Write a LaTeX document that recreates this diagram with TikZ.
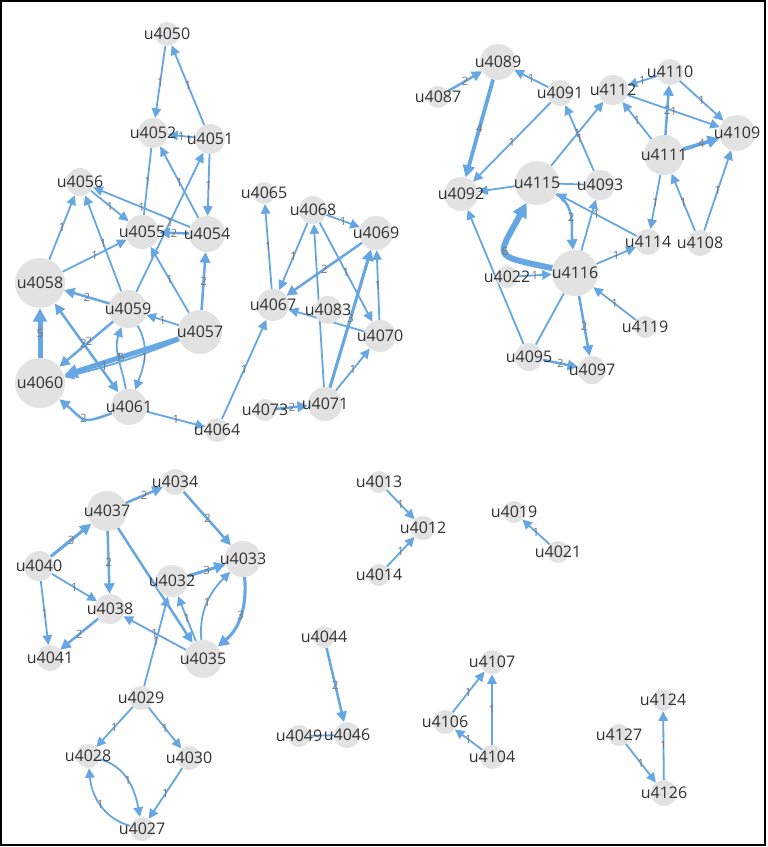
\documentclass[tikz,border=0pt]{standalone}
\usepackage{fontspec}
\setmainfont{Open Sans}
\usetikzlibrary{arrows.meta}
\definecolor{edgeblue}{RGB}{102,166,226}
\definecolor{nodegray}{RGB}{226,226,226}
\definecolor{txtgray}{RGB}{50,50,50}
\definecolor{labgray}{RGB}{118,118,118}
\pgfdeclarelayer{back}
\pgfdeclarelayer{edges}
\pgfsetlayers{back,edges,main}
\tikzset{
  >={Triangle[length=7.5pt 1.2,width=7pt 1.3]},
  nd/.style={circle,fill=nodegray,inner sep=0pt,minimum size=#1},
  nlab/.style={text=txtgray,font=\fontsize{16}{16}\selectfont,inner sep=0pt},
  el/.style={text=labgray,font=\fontsize{11.5}{11.5}\selectfont,inner sep=0.5pt},
  eb/.style={draw=edgeblue,->},
  e1/.style={eb,line width=1.8pt},
  e2/.style={eb,line width=2.5pt},
  e3/.style={eb,line width=3.1pt},
  e4/.style={eb,line width=3.8pt},
  e5/.style={eb,line width=5pt},
  e6/.style={eb,line width=6pt},
  frame/.style={draw=black,line width=2pt}
}
\newcommand\mynode[4]{\node[nd=#4pt,label={[nlab]center:#1}] (#1) at (#2,#3) {};}
\begin{document}
\begin{tikzpicture}[x=1pt,y=-1pt]
\useasboundingbox (0,0) rectangle (768,847);
\begin{pgfonlayer}{back}
\fill[white] (0,0) rectangle (768,847);
\end{pgfonlayer}
% nodes
\mynode{u4050}{167}{34}{24}
\mynode{u4052}{153}{133}{30}
\mynode{u4051}{210}{139}{30}
\mynode{u4056}{80}{182}{28}
\mynode{u4055}{142}{232}{34}
\mynode{u4054}{207}{234}{36}
\mynode{u4058}{40}{283}{50}
\mynode{u4059}{128}{309}{38}
\mynode{u4057}{200}{332}{44}
\mynode{u4060}{40}{383}{50}
\mynode{u4061}{129}{407}{36}
\mynode{u4064}{217}{430}{24}
\mynode{u4065}{264}{193}{22}
\mynode{u4068}{313}{210}{28}
\mynode{u4069}{376}{233}{34}
\mynode{u4067}{273}{305}{32}
\mynode{u4083}{328}{310}{28}
\mynode{u4070}{380}{336}{32}
\mynode{u4071}{325}{404}{34}
\mynode{u4073}{265}{410}{22}
\mynode{u4087}{438}{97}{22}
\mynode{u4089}{498}{62}{36}
\mynode{u4091}{560}{93}{26}
\mynode{u4112}{613}{90}{30}
\mynode{u4110}{670}{72}{26}
\mynode{u4109}{737}{133}{36}
\mynode{u4111}{664}{155}{40}
\mynode{u4092}{461}{194}{34}
\mynode{u4115}{537}{183}{44}
\mynode{u4093}{600}{185}{30}
\mynode{u4114}{648}{242}{26}
\mynode{u4108}{700}{243}{26}
\mynode{u4022}{507}{277}{22}
\mynode{u4116}{575}{273}{46}
\mynode{u4119}{645}{327}{22}
\mynode{u4095}{529}{357}{28}
\mynode{u4097}{592}{370}{28}
\mynode{u4034}{175}{482}{26}
\mynode{u4037}{107}{511}{40}
\mynode{u4040}{39}{566}{30}
\mynode{u4033}{243}{559}{36}
\mynode{u4032}{172}{581}{32}
\mynode{u4038}{110}{609}{30}
\mynode{u4041}{50}{658}{26}
\mynode{u4035}{203}{659}{38}
\mynode{u4029}{141}{698}{24}
\mynode{u4028}{88}{756}{24}
\mynode{u4030}{189}{758}{24}
\mynode{u4027}{142}{829}{24}
\mynode{u4013}{379}{482}{22}
\mynode{u4012}{423}{528}{24}
\mynode{u4014}{379}{575}{22}
\mynode{u4019}{514}{512}{22}
\mynode{u4021}{558}{552}{22}
\mynode{u4044}{324}{637}{22}
\mynode{u4049}{299}{736}{22}
\mynode{u4046}{347}{735}{26}
\mynode{u4107}{492}{662}{24}
\mynode{u4106}{445}{722}{24}
\mynode{u4104}{492}{757}{24}
\mynode{u4124}{663}{700}{22}
\mynode{u4127}{619}{735}{22}
\mynode{u4126}{664}{793}{26}
\begin{pgfonlayer}{edges}
% cluster A
\draw[e1] (u4050) -- node[el]{1} (u4052);
\draw[e1] (u4051) -- node[el]{1} (u4050);
\draw[e1] (u4051) -- node[el]{1} (u4052);
\draw[e1] (u4051) -- node[el]{1} (u4054);
\draw[e1,-] (u4052) -- node[el]{1} (u4055);
\draw[e1] (u4054) -- node[el]{1} (u4052);
\draw[e1] (u4054) -- node[el]{1} (u4056);
\draw[e1] (u4056) -- node[el]{1} (u4055);
\draw[e1] (u4058) -- node[el]{1} (u4056);
\draw[e1] (u4059) -- node[el]{1} (u4056);
\draw[e1] (u4058) -- node[el]{1} (u4055);
\draw[e1] (u4059) -- node[el]{1} (u4051);
\draw[e2] (u4054) -- node[el]{2} (u4055);
\draw[e1] (u4057) -- node[el]{1} (u4055);
\draw[e2] (u4057) -- node[el]{2} (u4054);
\draw[e2] (u4059) -- node[el]{2} (u4058);
\draw[e1] (u4057) -- node[el]{1} (u4059);
\draw[e5] (u4060) -- node[el]{5} (u4058);
\draw[e5] (u4057) -- node[el]{5} (u4060);
\draw[e1] (u4057) to[bend left=4] node[el,pos=0.67]{1} (u4060);
\draw[e2] (u4059) -- node[el,pos=0.45]{2} (u4060);
\draw[e2,<->] (u4061) -- node[el,pos=0.55]{2} (u4058);
\draw[e1] (u4059) to[out=-60,in=70] node[el]{1} (u4061);
\draw[e1] (u4061) to[out=100,in=-110] node[el]{1} (u4059);
\draw[e2] (u4061) to[out=-160,in=-40,looseness=1.6] node[el]{2} (u4060);
\draw[e1] (u4061) -- node[el]{1} (u4064);
\draw[e1] (u4064) -- node[el]{1} (u4067);
% cluster B
\draw[e1] (u4067) -- node[el]{1} (u4065);
\draw[e1] (u4068) -- node[el]{1} (u4067);
\draw[e2] (u4069) -- node[el]{2} (u4067);
\draw[e1] (u4068) -- node[el]{1} (u4069);
\draw[e1] (u4068) -- node[el]{1} (u4070);
\draw[e1] (u4071) -- (u4068);
\draw[e1] (u4070) -- node[el]{1} (u4069);
\draw[e3] (u4071) -- node[el]{3} (u4069);
\draw[e1] (u4070) -- node[el]{1} (u4067);
\draw[e1] (u4071) -- node[el]{1} (u4070);
\draw[e2] (u4073) -- node[el]{2} (u4071);
% cluster C
\draw[e2] (u4087) -- node[el]{2} (u4089);
\draw[e4] (u4089) -- node[el]{4} (u4092);
\draw[e1] (u4091) -- node[el]{1} (u4089);
\draw[e1] (u4091) -- node[el]{1} (u4092);
\draw[e1] (u4093) -- node[el]{1} (u4091);
\draw[e1] (u4115) -- node[el]{1} (u4112);
\draw[e1] (u4110) -- node[el]{1} (u4112);
\draw[e1] (u4111) -- node[el]{1} (u4112);
\draw[e2] (u4111) -- node[el]{2} (u4110);
\draw[e1] (u4112) -- node[el]{1} (u4109);
\draw[e1] (u4110) -- node[el]{1} (u4109);
\draw[e4] (u4111) -- node[el]{4} (u4109);
\draw[e1] (u4111) -- node[el]{1} (u4114);
\draw[e1] (u4108) -- node[el]{1} (u4111);
\draw[e1] (u4108) -- node[el]{1} (u4109);
\draw[e1] (u4115) -- (u4092);
\draw[e1,-] (u4093) -- (u4115);
\draw[e1] (u4114) -- node[el]{1} (u4115);
\draw[e2] (u4115) to[out=-30,in=95] node[el]{2} (u4116);
\draw[e6] (u4116) to[out=168,in=-118,looseness=2.3] node[el]{6} (u4115);
\draw[e1] (u4116) -- (u4093);
\draw[e1] (u4022) -- node[el]{1} (u4116);
\draw[e1] (u4116) -- node[el]{1} (u4114);
\draw[e1] (u4119) -- node[el]{1} (u4116);
\draw[e2] (u4116) -- node[el]{2} (u4097);
\draw[e1] (u4095) -- (u4092);
\draw[e1,-] (u4095) -- (u4116);
\draw[e2] (u4095) -- node[el]{2} (u4097);
% cluster D
\draw[e2] (u4037) -- node[el]{2} (u4034);
\draw[e2] (u4034) -- node[el]{2} (u4033);
\draw[e3] (u4040) -- node[el]{3} (u4037);
\draw[e2] (u4037) -- node[el]{2} (u4038);
\draw[e2] (u4037) -- (u4035);
\draw[e1] (u4040) -- node[el]{1} (u4038);
\draw[e1] (u4040) -- node[el]{1} (u4041);
\draw[e2] (u4038) -- node[el]{2} (u4041);
\draw[e3] (u4032) -- node[el]{3} (u4033);
\draw[e3] (u4033) to[out=-85,in=40] node[el]{3} (u4035);
\draw[e1] (u4035) to[out=95,in=-135] node[el]{1} (u4033);
\draw[e1] (u4035) -- node[el]{1} (u4032);
\draw[e1] (u4035) -- node[el]{1} (u4038);
\draw[e1] (u4029) -- node[el]{1} (u4032);
\draw[e1] (u4029) -- node[el]{1} (u4028);
\draw[e1] (u4029) -- node[el]{1} (u4030);
\draw[e1] (u4028) to[out=-15,in=100] node[el]{1} (u4027);
\draw[e1] (u4027) to[out=165,in=-85] node[el]{1} (u4028);
\draw[e1] (u4030) -- node[el]{1} (u4027);
% small groups
\draw[e1] (u4013) -- node[el]{1} (u4012);
\draw[e1] (u4014) -- node[el]{1} (u4012);
\draw[e1] (u4021) -- node[el]{1} (u4019);
\draw[e2] (u4044) -- node[el]{2} (u4046);
\draw[e1,-] (u4049) -- (u4046);
\draw[e1] (u4106) -- node[el]{1} (u4107);
\draw[e1] (u4104) -- node[el]{1} (u4107);
\draw[e1] (u4104) -- node[el]{1} (u4106);
\draw[e1] (u4127) -- node[el]{1} (u4126);
\draw[e1] (u4126) -- node[el]{1} (u4124);
\end{pgfonlayer}
\draw[frame] (1,1) rectangle (765,845);
\end{tikzpicture}
\end{document}
